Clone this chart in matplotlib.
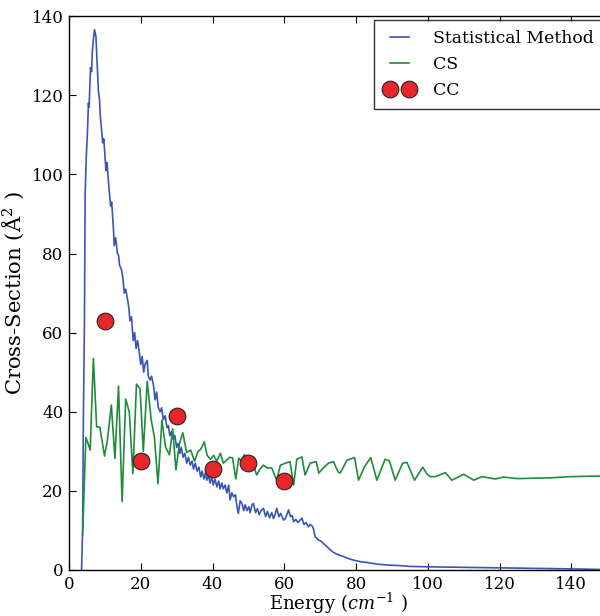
import numpy as np
import matplotlib
matplotlib.use("Agg")
import matplotlib.pyplot as plt

plt.rcParams['font.family'] = ['DejaVu Serif']
plt.rcParams['mathtext.fontset'] = 'dejavuserif'

# Statistical Method (blue)
stat_x = [3.5, 3.8, 4.0, 4.3, 4.5, 4.8, 5.2, 5.4, 5.6, 6.0, 6.3, 6.5, 6.8, 7.1, 7.5, 7.9, 8.2, 8.5, 8.7,
          9.1, 9.4, 9.7, 10.0, 10.3, 10.6, 11.0, 11.4, 11.6, 11.9, 12.4, 12.6, 13.0, 13.5, 13.8, 14.1,
          14.6, 15.0, 15.4, 15.8, 16.4, 16.7, 17.0, 17.4, 17.9, 18.3, 18.7, 19.1, 19.6, 20.0, 20.4,
          20.8, 21.2, 21.8, 22.1, 22.6, 23.0, 23.5, 24.0, 24.4, 24.9, 25.4, 25.8, 26.3, 26.8, 27.3,
          27.7, 28.1, 28.6, 29.1, 29.5, 30.0, 30.4, 30.9, 31.3, 31.8, 32.3, 32.8, 33.3, 33.8, 34.3,
          34.7, 35.2, 35.7, 36.2, 36.7, 37.1, 37.6, 38.0, 38.4, 38.9, 39.3, 39.8, 40.2, 40.7, 41.2,
          41.7, 42.1, 42.6, 43.0, 43.5, 44.0, 44.5, 44.9, 45.4, 45.9, 46.4, 46.8, 47.2, 47.7, 48.2,
          48.7, 49.1, 49.6, 50.1, 50.5, 51.0, 51.4, 52.0, 52.5, 53.0, 53.5, 54.2, 54.8, 55.3, 55.9,
          56.5, 57.0, 57.5, 57.9, 58.5, 59.0, 59.8, 60.3, 61.2, 61.7, 62.2, 62.6, 63.2, 63.8, 64.4,
          64.9, 65.5, 66.1, 66.7, 67.2, 67.7, 68.1, 68.6, 69.1, 69.5, 70.0, 70.5, 70.9, 71.4, 71.9,
          72.8, 73.5, 74.2, 75.5, 76.5, 77.5, 79.3, 81.2, 83.0, 85.8, 88.0, 90.0, 92.3, 95.1, 100.0,
          108.0, 115.0, 120.0, 126.7, 135.0, 142.0, 150.0]
stat_y = [0, 10, 38, 62, 95, 104, 112, 118, 117, 127, 126, 131, 134, 136.6, 135, 127, 121, 119, 115,
          111, 108, 109, 105, 101, 103, 98, 94, 92, 93, 86, 82, 84, 80, 79.6, 77,
          76, 74, 70, 71, 68, 66, 63, 64, 58, 60, 56, 58, 55, 52, 54,
          50, 52, 53, 49, 48, 49, 47, 43, 45, 41, 40, 41, 38, 39, 36,
          36.5, 34, 35, 33, 34, 31, 32, 29.5, 31, 28.5, 29.5, 27, 28.5, 26.5, 27.5,
          25.5, 27, 25, 26, 23.5, 25, 23, 24.5, 22.7, 24, 22, 23.5, 21.5, 23, 21,
          22.5, 20.5, 22, 20.5, 21.5, 19.5, 21.5, 17.7, 19.5, 18.5, 19, 16, 14.3, 17.5, 16.8,
          15, 16.5, 15, 16, 14.5, 16.5, 16.8, 14.5, 15.5, 14, 15, 15.6, 13.5, 14.8, 13.2,
          14.5, 13, 14.2, 15.6, 13.5, 14.3, 12.6, 13, 15.2, 13.5, 13.8, 12.2, 12.8, 12, 12.6,
          13.1, 11.5, 12, 10.9, 11.5, 11.2, 10.5, 8.4, 8, 7.6, 7.4, 7.1, 6.7, 6.3, 5.9,
          5.1, 4.6, 4.2, 3.7, 3.4, 3.0, 2.5, 2.1, 1.9, 1.5, 1.3, 1.2, 1.1, 0.9, 0.8,
          0.7, 0.6, 0.55, 0.45, 0.35, 0.25, 0.1]

# CS (green)
cs_x = [3.8, 4.7, 5.3, 5.9, 6.8, 7.7, 8.6, 9.9, 10.7, 11.8, 12.8, 13.8, 14.8, 15.8, 16.8, 17.8, 18.8,
        19.8, 20.7, 21.8, 22.9, 23.8, 24.8, 25.9, 26.9, 28.0, 28.9, 29.8, 30.8, 31.7, 32.8, 33.9,
        35.0, 35.9, 36.7, 37.7, 38.5, 39.4, 40.3, 41.2, 42.2, 43.0, 44.0, 44.8, 45.6, 46.5, 47.3,
        48.0, 48.9, 49.8, 50.6, 51.4, 52.3, 53.2, 54.2, 55.2, 56.5, 57.9, 58.9, 60.3, 61.6, 62.6,
        63.5, 64.9, 65.8, 67.2, 68.9, 69.6, 70.9, 72.3, 73.7, 75.0, 75.6, 77.5, 79.6, 80.7, 82.3,
        84.1, 85.8, 88.1, 89.3, 90.9, 93.0, 94.2, 96.3, 98.6, 99.8, 100.7, 102.1, 104.9, 106.7,
        110.0, 112.8, 115.1, 118.8, 121.1, 124.9, 129.5, 134.2, 139.7, 145.0, 150.0]
cs_y = [9, 33.5, 32, 30.3, 53.5, 36.2, 36.1, 28.8, 32.8, 41.7, 28.2, 46.5, 17.3, 43.2, 40, 24.3, 47,
        45.8, 30, 47.7, 38, 33.6, 21.8, 37.9, 31.1, 29.1, 35.7, 25.3, 32, 34.7, 29.7, 30.3,
        27.5, 29.9, 30.5, 32.4, 29, 28, 29, 27.5, 29.5, 27, 27.8, 28.5, 28.3, 23, 28.3,
        27.5, 29.2, 27, 26, 26.5, 24, 25.5, 26.5, 25.8, 25.8, 22.7, 26.5, 27, 27.4, 21.5,
        28, 28.6, 24, 27, 27.4, 24.5, 25.8, 27, 27.4, 24.8, 24.5, 27.8, 28.4, 22.7, 26,
        28.4, 22.7, 28, 27.6, 22.7, 27, 27.2, 22.7, 26, 24.2, 23.6, 23.6, 24.6, 22.7,
        24.2, 22.7, 23.6, 23, 23.5, 23.1, 23.2, 23.3, 23.6, 23.7, 23.8]

# CC (red circles)
cc_x = [10, 20, 30, 40, 50, 60]
cc_y = [63, 27.5, 39, 25.5, 27, 22.5]

fig = plt.figure(figsize=(6, 6.16), dpi=100)
ax = fig.add_axes([0.115, 0.0747, 0.897, 0.899])

ax.plot(stat_x, stat_y, color='#3a55b6', lw=1.2, label='Statistical Method')
ax.plot(cs_x, cs_y, color='#1f8c3b', lw=1.2, label='CS')
ax.plot(cc_x, cc_y, 'o', color='#e8262a', mec='#222222', mew=0.8, ms=12, label='CC')

ax.set_xlim(0, 150)
ax.set_ylim(0, 140)
ax.set_xticks(range(0, 160, 20))
ax.set_yticks(range(0, 160, 20))
ax.tick_params(direction='in', top=True, right=True, length=5, labelsize=12, pad=4)
for s in ax.spines.values():
    s.set_linewidth(1.0)

ax.set_xlabel('Energy ($cm^{-1}$ )', fontsize=13, labelpad=-1)
ax.set_ylabel('Cross-Section (Å$^2$ )', fontsize=15.2)

leg = ax.legend(loc='upper right', fontsize=12.4, numpoints=2, handlelength=1.7,
                handletextpad=1.1, labelspacing=0.52, fancybox=False, borderpad=0.6,
                borderaxespad=0.2)
leg.get_frame().set_edgecolor('black')
leg.get_frame().set_linewidth(1.0)

fig.savefig('out.png', dpi=100)
